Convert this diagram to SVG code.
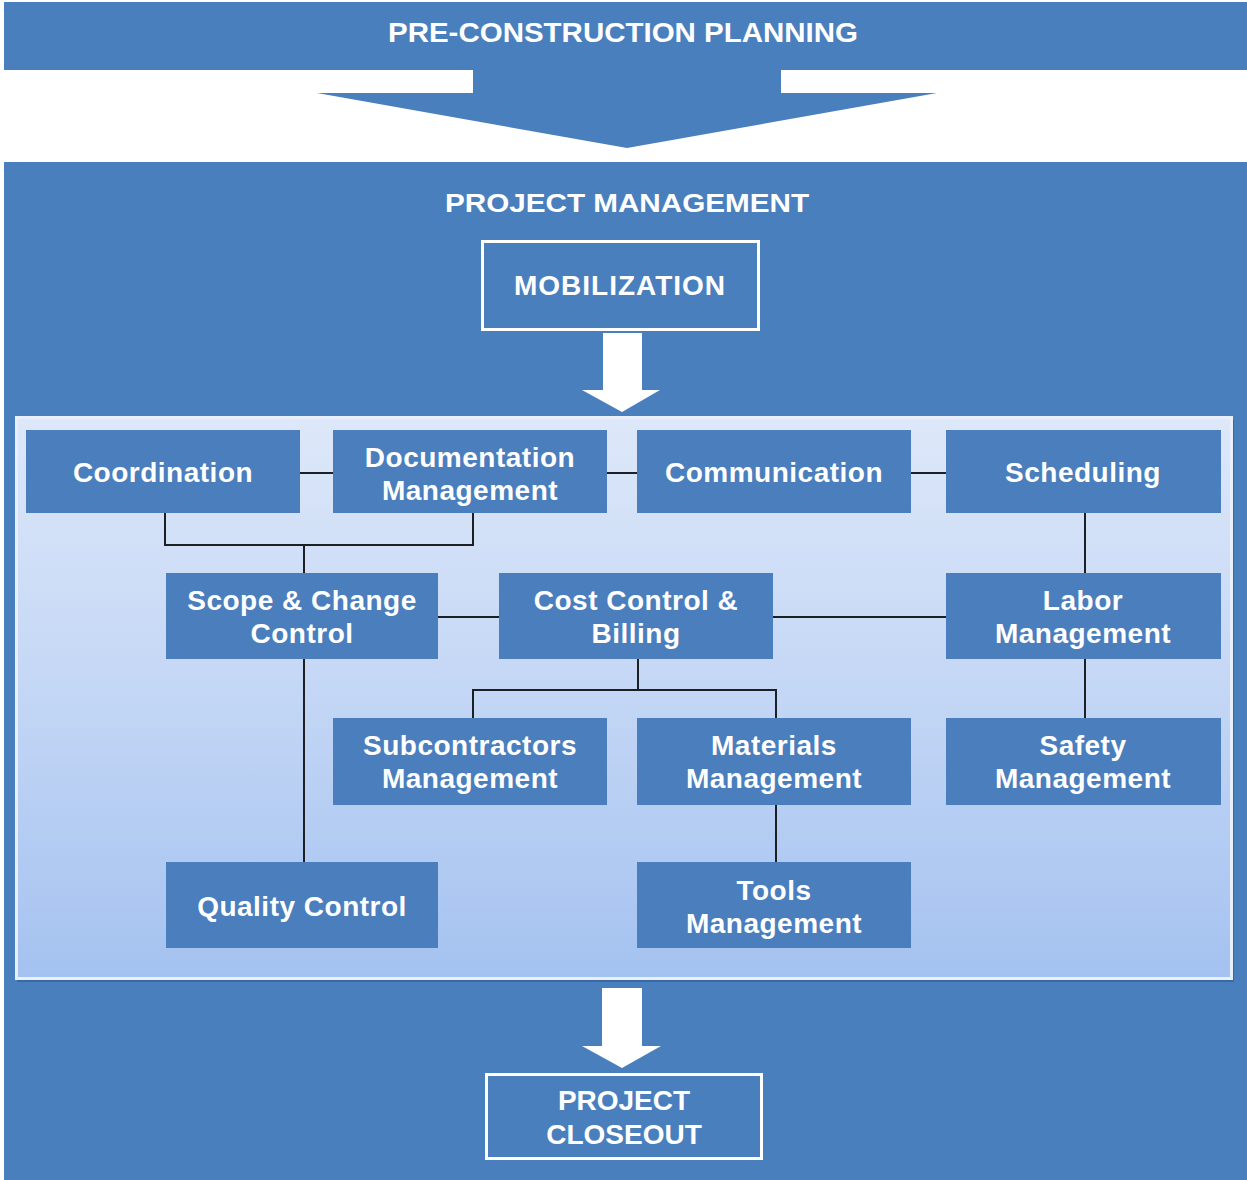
<svg xmlns="http://www.w3.org/2000/svg" width="1247" height="1180" viewBox="0 0 1247 1180">
  <defs>
    <linearGradient id="panelFill" x1="0" y1="0" x2="0" y2="1">
      <stop offset="0" stop-color="#dde8f9"/>
      <stop offset="0.5" stop-color="#c3d6f5"/>
      <stop offset="1" stop-color="#a4c2f0"/>
    </linearGradient>
    <style>
      .band { fill: #4a7fbe; }
      .head { font-family: "Liberation Sans", Arial, sans-serif; font-weight: bold; fill: #ffffff; text-anchor: middle; }
      .node rect { fill: #4a7ebd; }
      .node text { font-family: "Liberation Sans", Arial, sans-serif; font-weight: bold; font-size: 28px; letter-spacing: 0.5px; fill: #ffffff; text-anchor: middle; }
      .outline { fill: none; stroke: #ffffff; stroke-width: 3; }
      .wire { fill: none; stroke: #1c1f24; stroke-width: 2; }
    </style>
  </defs>

  <!-- page background -->
  <rect x="0" y="0" width="1247" height="1180" fill="#ffffff"/>

  <!-- pre-construction band and the wide arrow below it -->
  <g id="pre-construction">
    <rect class="band" x="4" y="2" width="1243" height="68"/>
    <path class="band" d="M473 70 H781 V93 H937 L627 148 L317 93 H473 Z"/>
    <text class="head" x="623" y="42" font-size="28" textLength="470" lengthAdjust="spacingAndGlyphs">PRE-CONSTRUCTION PLANNING</text>
  </g>

  <!-- project management area -->
  <g id="project-management">
    <rect class="band" x="4" y="162" width="1243" height="1018"/>
    <text class="head" x="627" y="212" font-size="26" textLength="364" lengthAdjust="spacingAndGlyphs">PROJECT MANAGEMENT</text>
  </g>

  <g id="mobilization">
    <rect class="outline" x="482.5" y="241.5" width="276" height="88"/>
    <text class="head" x="620" y="295" font-size="28" letter-spacing="1">MOBILIZATION</text>
  </g>

  <!-- white arrow into the activity panel -->
  <path id="arrow-in" d="M603 333 H642 V390 H660 L622 412 L582 390 H603 Z" fill="#ffffff"/>

  <!-- activity panel -->
  <g id="activity-panel">
    <rect x="17" y="420" width="1217" height="562" fill="#3a68a2"/>
    <rect x="16.5" y="417.5" width="1215" height="561" fill="url(#panelFill)" stroke="#e9f0fb" stroke-width="3"/>
  </g>

  <!-- connectors -->
  <g id="connectors">
    <path class="wire" d="M300 473 H333"/>
    <path class="wire" d="M607 473 H637"/>
    <path class="wire" d="M911 473 H946"/>
    <path class="wire" d="M165 513 V545 H473 V513 M304 545 V573"/>
    <path class="wire" d="M438 617 H499"/>
    <path class="wire" d="M773 617 H946"/>
    <path class="wire" d="M1085 513 V573"/>
    <path class="wire" d="M1085 659 V718"/>
    <path class="wire" d="M638 659 V690 M473 718 V690 H776 V718"/>
    <path class="wire" d="M776 805 V862"/>
    <path class="wire" d="M304 659 V862"/>
  </g>

  <!-- activity nodes -->
  <g id="coordination" class="node">
    <rect x="26" y="430" width="274" height="83"/>
    <text x="163" y="482">Coordination</text>
  </g>
  <g id="documentation-management" class="node">
    <rect x="333" y="430" width="274" height="83"/>
    <text x="470" y="467">Documentation</text>
    <text x="470" y="500">Management</text>
  </g>
  <g id="communication" class="node">
    <rect x="637" y="430" width="274" height="83"/>
    <text x="774" y="482">Communication</text>
  </g>
  <g id="scheduling" class="node">
    <rect x="946" y="430" width="275" height="83"/>
    <text x="1083" y="482">Scheduling</text>
  </g>
  <g id="scope-change-control" class="node">
    <rect x="166" y="573" width="272" height="86"/>
    <text x="302" y="610">Scope &amp; Change</text>
    <text x="302" y="643">Control</text>
  </g>
  <g id="cost-control-billing" class="node">
    <rect x="499" y="573" width="274" height="86"/>
    <text x="636" y="610">Cost Control &amp;</text>
    <text x="636" y="643">Billing</text>
  </g>
  <g id="labor-management" class="node">
    <rect x="946" y="573" width="275" height="86"/>
    <text x="1083" y="610">Labor</text>
    <text x="1083" y="643">Management</text>
  </g>
  <g id="subcontractors-management" class="node">
    <rect x="333" y="718" width="274" height="87"/>
    <text x="470" y="755">Subcontractors</text>
    <text x="470" y="788">Management</text>
  </g>
  <g id="materials-management" class="node">
    <rect x="637" y="718" width="274" height="87"/>
    <text x="774" y="755">Materials</text>
    <text x="774" y="788">Management</text>
  </g>
  <g id="safety-management" class="node">
    <rect x="946" y="718" width="275" height="87"/>
    <text x="1083" y="755">Safety</text>
    <text x="1083" y="788">Management</text>
  </g>
  <g id="quality-control" class="node">
    <rect x="166" y="862" width="272" height="86"/>
    <text x="302" y="916">Quality Control</text>
  </g>
  <g id="tools-management" class="node">
    <rect x="637" y="862" width="274" height="86"/>
    <text x="774" y="900">Tools</text>
    <text x="774" y="933">Management</text>
  </g>

  <!-- white arrow out to closeout -->
  <path id="arrow-out" d="M602 988 H642 V1046 H661 L622 1068 L582 1046 H602 Z" fill="#ffffff"/>

  <g id="project-closeout">
    <rect class="outline" x="486.5" y="1074.5" width="275" height="84"/>
    <text class="head" x="624" y="1110" font-size="28">PROJECT</text>
    <text class="head" x="624" y="1144" font-size="28">CLOSEOUT</text>
  </g>
</svg>
